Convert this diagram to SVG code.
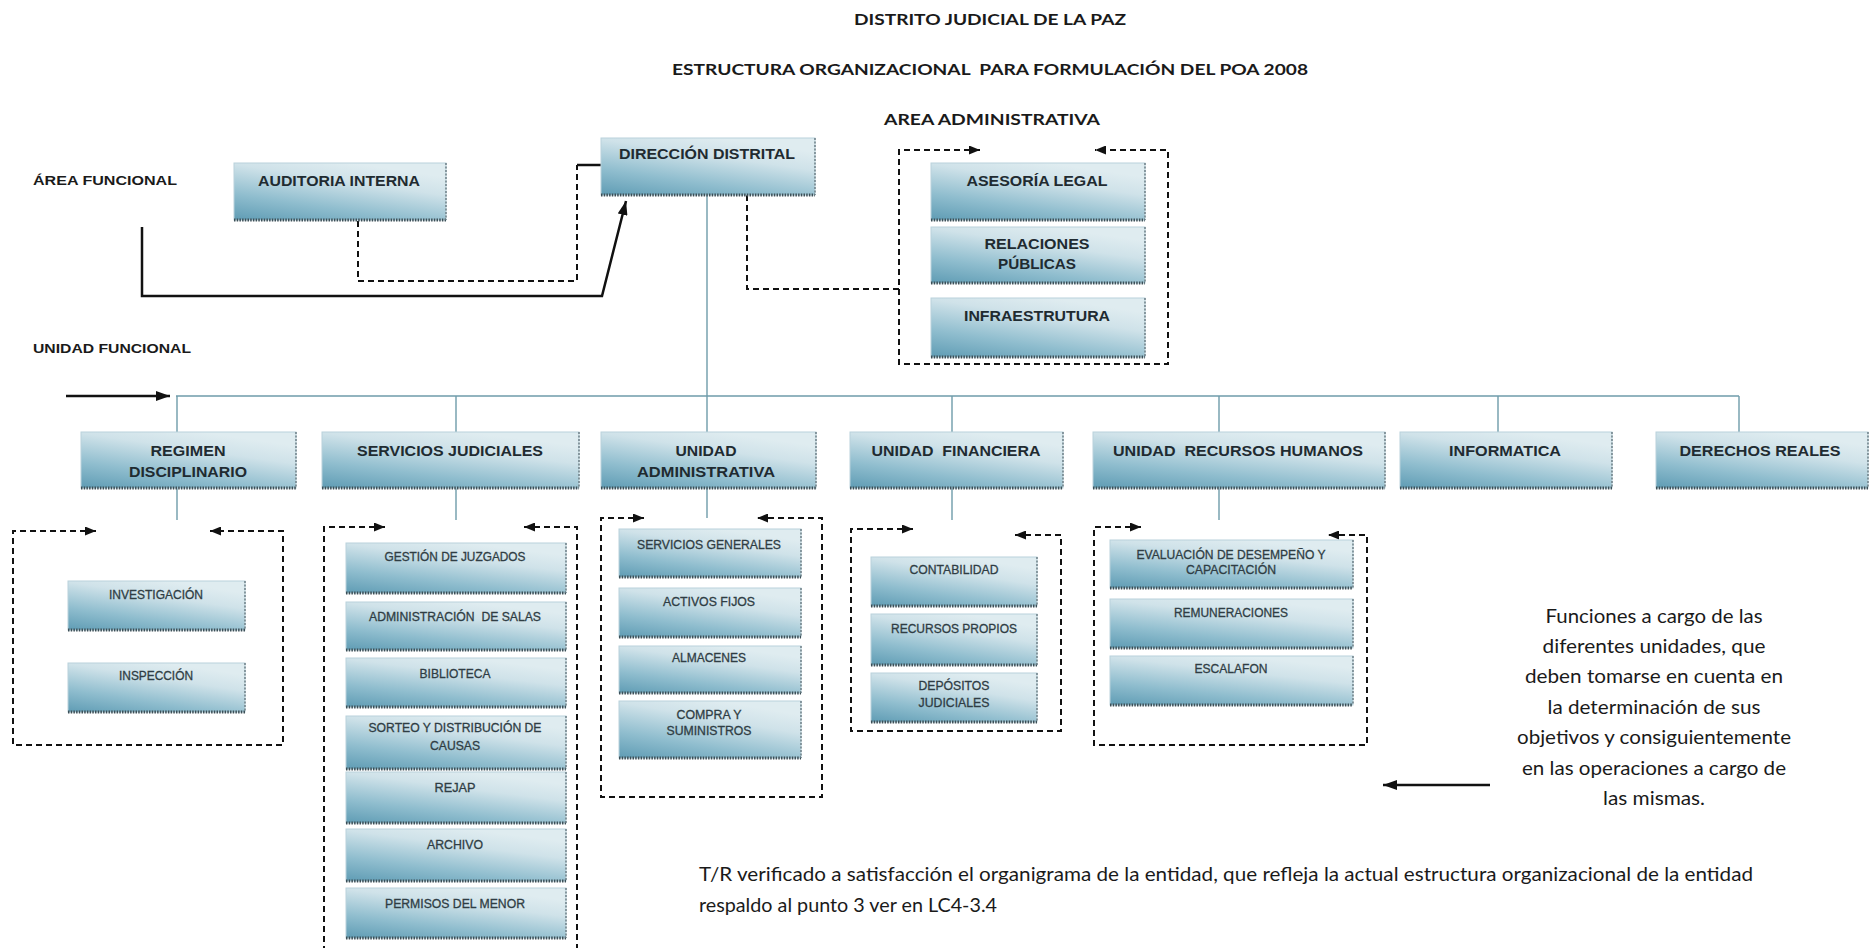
<svg xmlns="http://www.w3.org/2000/svg" width="1873" height="948" viewBox="0 0 1873 948">
<defs>
<linearGradient id="g" x1="0" y1="1" x2="0.55" y2="0">
<stop offset="0" stop-color="#5f9cb4"/>
<stop offset="0.35" stop-color="#8fbdce"/>
<stop offset="0.75" stop-color="#cfe2e9"/>
<stop offset="1" stop-color="#dfecf0"/>
</linearGradient>
<marker id="ah" viewBox="0 0 11 9" refX="11" refY="4.5" markerWidth="11" markerHeight="9" markerUnits="userSpaceOnUse" orient="auto-start-reverse">
<path d="M0,0 L11,4.5 L0,9 z" fill="#111"/>
</marker>
<marker id="ahb" viewBox="0 0 14 10" refX="14" refY="5" markerWidth="14" markerHeight="10" markerUnits="userSpaceOnUse" orient="auto">
<path d="M0,0 L14,5 L0,10 z" fill="#111"/>
</marker>
</defs>
<style>
.bx{fill:url(#g);stroke:#b9d2db;stroke-width:1}
.sb{stroke:#3c4f57;stroke-width:3;stroke-dasharray:1.5 1.2;fill:none}
.sr{stroke:#6d7f86;stroke-width:1.5;stroke-dasharray:2 1.5;fill:none}
.t1{font-family:"Liberation Sans",Arial,sans-serif;font-weight:bold;font-size:15px;fill:#1f2b31;text-anchor:middle;dominant-baseline:central;white-space:pre}
.t2{font-family:"Liberation Sans",Arial,sans-serif;font-size:12.5px;fill:#2f3d44;text-anchor:middle;dominant-baseline:central;stroke:#2f3d44;stroke-width:0.3}
.lb{font-family:"Liberation Sans",Arial,sans-serif;font-weight:bold;font-size:13.5px;fill:#1a1a1a;dominant-baseline:central}
.ti{font-family:Lato,"Open Sans",sans-serif;font-weight:bold;font-size:16px;fill:#1a1a1a;text-anchor:middle;dominant-baseline:central;white-space:pre}
.an{font-family:Lato,"Open Sans",sans-serif;font-size:20px;fill:#1a1a1a;text-anchor:middle;dominant-baseline:central}
.nt{font-family:Lato,"Open Sans",sans-serif;font-size:19px;fill:#1a1a1a;dominant-baseline:central}
.bus{stroke:#6f9caa;stroke-width:1.4;fill:none}
.dsh{stroke:#111;stroke-width:2;stroke-dasharray:6 4;fill:none}
.sol{stroke:#111;stroke-width:2.5;fill:none}
</style>
<rect width="1873" height="948" fill="#fff"/>

<g id="titles">
<text class="ti" x="990" y="18" textLength="272" lengthAdjust="spacingAndGlyphs">DISTRITO JUDICIAL DE LA PAZ</text>
<text class="ti" x="990" y="68" textLength="636" lengthAdjust="spacingAndGlyphs">ESTRUCTURA ORGANIZACIONAL  PARA FORMULACIÓN DEL POA 2008</text>
<text class="ti" x="992" y="118" textLength="216" lengthAdjust="spacingAndGlyphs">AREA ADMINISTRATIVA</text>
<text class="lb" x="33" y="180" textLength="144" lengthAdjust="spacingAndGlyphs">ÁREA FUNCIONAL</text>
<text class="lb" x="33" y="348" textLength="158" lengthAdjust="spacingAndGlyphs">UNIDAD FUNCIONAL</text>
</g>

<g id="connectors">
<path class="dsh" d="M358,221 L358,281 L577,281 L577,165"/>
<path class="sol" d="M577,165 L602,165" stroke-width="2"/>
<path class="sol" d="M142,227 L142,296 L602,296 L626,201" marker-end="url(#ahb)"/>
<path class="dsh" d="M747,195 L747,289 L899,289"/>
<path class="dsh" d="M980,150 L899,150 L899,364 L1168,364 L1168,150 L1095,150" marker-start="url(#ah)" marker-end="url(#ah)"/>
<path class="bus" d="M707,195 L707,432 M176,396 L1739,396 M177,396 L177,432 M456,396 L456,432 M952,396 L952,432 M1219,396 L1219,432 M1498,396 L1498,432 M1739,396 L1739,432"/>
<path class="sol" d="M66,396 L170,396" marker-end="url(#ahb)"/>
<path class="bus" d="M177,488 L177,520 M456,488 L456,520 M707,488 L707,518 M952,488 L952,520 M1219,488 L1219,520"/>
<path class="dsh" d="M96,531 L13,531 L13,745 L283,745 L283,531 L210,531" marker-start="url(#ah)" marker-end="url(#ah)"/>
<path class="dsh" d="M385,527 L324,527 L324,950" marker-start="url(#ah)"/>
<path class="dsh" d="M577,950 L577,527 L524,527" marker-end="url(#ah)"/>
<path class="dsh" d="M644,518 L601,518 L601,797 L822,797 L822,518 L757,518" marker-start="url(#ah)" marker-end="url(#ah)"/>
<path class="dsh" d="M913,529 L851,529 L851,731 L1061,731 L1061,535 L1015,535" marker-start="url(#ah)" marker-end="url(#ah)"/>
<path class="dsh" d="M1141,527 L1094,527 L1094,745 L1367,745 L1367,535 L1328,535" marker-start="url(#ah)" marker-end="url(#ah)"/>
<path class="sol" d="M1490,785 L1383,785" marker-end="url(#ahb)"/>
</g>

<g id="n-auditoria"><rect class="bx" x="234" y="163" width="212" height="57"/><path class="sb" d="M234,220 H446"/><path class="sr" d="M446,163 V220"/><text class="t1" x="339" y="180" textLength="162" lengthAdjust="spacingAndGlyphs">AUDITORIA INTERNA</text></g>
<g id="n-direccion"><rect class="bx" x="601" y="138" width="214" height="57"/><path class="sb" d="M601,195 H815"/><path class="sr" d="M815,138 V195"/><text class="t1" x="707" y="153" textLength="176" lengthAdjust="spacingAndGlyphs">DIRECCIÓN DISTRITAL</text></g>
<g id="n-asesoria"><rect class="bx" x="931" y="163" width="214" height="57"/><path class="sb" d="M931,220 H1145"/><path class="sr" d="M1145,163 V220"/><text class="t1" x="1037" y="180" textLength="141" lengthAdjust="spacingAndGlyphs">ASESORÍA LEGAL</text></g>
<g id="n-relaciones"><rect class="bx" x="931" y="227" width="214" height="56"/><path class="sb" d="M931,283 H1145"/><path class="sr" d="M1145,227 V283"/><text class="t1" x="1037" y="243" textLength="105" lengthAdjust="spacingAndGlyphs">RELACIONES</text><text class="t1" x="1037" y="263" textLength="78" lengthAdjust="spacingAndGlyphs">PÚBLICAS</text></g>
<g id="n-infra"><rect class="bx" x="931" y="298" width="214" height="59"/><path class="sb" d="M931,357 H1145"/><path class="sr" d="M1145,298 V357"/><text class="t1" x="1037" y="315" textLength="146" lengthAdjust="spacingAndGlyphs">INFRAESTRUTURA</text></g>

<g id="n-regimen"><rect class="bx" x="81" y="432" width="215" height="56"/><path class="sb" d="M81,488 H296"/><path class="sr" d="M296,432 V488"/><text class="t1" x="188" y="450" textLength="75" lengthAdjust="spacingAndGlyphs">REGIMEN</text><text class="t1" x="188" y="471" textLength="118" lengthAdjust="spacingAndGlyphs">DISCIPLINARIO</text></g>
<g id="n-servicios"><rect class="bx" x="322" y="432" width="257" height="56"/><path class="sb" d="M322,488 H579"/><path class="sr" d="M579,432 V488"/><text class="t1" x="450" y="450" textLength="186" lengthAdjust="spacingAndGlyphs">SERVICIOS JUDICIALES</text></g>
<g id="n-uadmin"><rect class="bx" x="601" y="432" width="215" height="56"/><path class="sb" d="M601,488 H816"/><path class="sr" d="M816,432 V488"/><text class="t1" x="706" y="450" textLength="61" lengthAdjust="spacingAndGlyphs">UNIDAD</text><text class="t1" x="706" y="471" textLength="138" lengthAdjust="spacingAndGlyphs">ADMINISTRATIVA</text></g>
<g id="n-ufin"><rect class="bx" x="850" y="432" width="213" height="56"/><path class="sb" d="M850,488 H1063"/><path class="sr" d="M1063,432 V488"/><text class="t1" x="956" y="450" textLength="169" lengthAdjust="spacingAndGlyphs">UNIDAD  FINANCIERA</text></g>
<g id="n-urrhh"><rect class="bx" x="1093" y="432" width="292" height="56"/><path class="sb" d="M1093,488 H1385"/><path class="sr" d="M1385,432 V488"/><text class="t1" x="1238" y="450" textLength="250" lengthAdjust="spacingAndGlyphs">UNIDAD  RECURSOS HUMANOS</text></g>
<g id="n-informatica"><rect class="bx" x="1400" y="432" width="212" height="56"/><path class="sb" d="M1400,488 H1612"/><path class="sr" d="M1612,432 V488"/><text class="t1" x="1505" y="450" textLength="112" lengthAdjust="spacingAndGlyphs">INFORMATICA</text></g>
<g id="n-derechos"><rect class="bx" x="1656" y="432" width="212" height="56"/><path class="sb" d="M1656,488 H1868"/><path class="sr" d="M1868,432 V488"/><text class="t1" x="1760" y="450" textLength="161" lengthAdjust="spacingAndGlyphs">DERECHOS REALES</text></g>

<g id="n-investigacion"><rect class="bx" x="68" y="581" width="177" height="49"/><path class="sb" d="M68,630 H245"/><path class="sr" d="M245,581 V630"/><text class="t2" x="156" y="595" textLength="94" lengthAdjust="spacingAndGlyphs">INVESTIGACIÓN</text></g>
<g id="n-inspeccion"><rect class="bx" x="68" y="663" width="177" height="49"/><path class="sb" d="M68,712 H245"/><path class="sr" d="M245,663 V712"/><text class="t2" x="156" y="676" textLength="74" lengthAdjust="spacingAndGlyphs">INSPECCIÓN</text></g>

<g id="n-gestion"><rect class="bx" x="346" y="543" width="220" height="50"/><path class="sb" d="M346,593 H566"/><path class="sr" d="M566,543 V593"/><text class="t2" x="455" y="557" textLength="141" lengthAdjust="spacingAndGlyphs">GESTIÓN DE JUZGADOS</text></g>
<g id="n-salas"><rect class="bx" x="346" y="602" width="220" height="48"/><path class="sb" d="M346,650 H566"/><path class="sr" d="M566,602 V650"/><text class="t2" x="455" y="617" textLength="172" lengthAdjust="spacingAndGlyphs" style="white-space:pre">ADMINISTRACIÓN  DE SALAS</text></g>
<g id="n-biblioteca"><rect class="bx" x="346" y="658" width="220" height="49"/><path class="sb" d="M346,707 H566"/><path class="sr" d="M566,658 V707"/><text class="t2" x="455" y="674" textLength="71" lengthAdjust="spacingAndGlyphs">BIBLIOTECA</text></g>
<g id="n-sorteo"><rect class="bx" x="346" y="716" width="220" height="53"/><path class="sb" d="M346,769 H566"/><path class="sr" d="M566,716 V769"/><text class="t2" x="455" y="728" textLength="173" lengthAdjust="spacingAndGlyphs">SORTEO Y DISTRIBUCIÓN DE</text><text class="t2" x="455" y="746" textLength="50" lengthAdjust="spacingAndGlyphs">CAUSAS</text></g>
<g id="n-rejap"><rect class="bx" x="346" y="772" width="220" height="51"/><path class="sb" d="M346,823 H566"/><path class="sr" d="M566,772 V823"/><text class="t2" x="455" y="788" textLength="41" lengthAdjust="spacingAndGlyphs">REJAP</text></g>
<g id="n-archivo"><rect class="bx" x="346" y="829" width="220" height="52"/><path class="sb" d="M346,881 H566"/><path class="sr" d="M566,829 V881"/><text class="t2" x="455" y="845" textLength="56" lengthAdjust="spacingAndGlyphs">ARCHIVO</text></g>
<g id="n-permisos"><rect class="bx" x="346" y="888" width="220" height="50"/><path class="sb" d="M346,938 H566"/><path class="sr" d="M566,888 V938"/><text class="t2" x="455" y="904" textLength="140" lengthAdjust="spacingAndGlyphs">PERMISOS DEL MENOR</text></g>

<g id="n-sgenerales"><rect class="bx" x="619" y="529" width="182" height="48"/><path class="sb" d="M619,577 H801"/><path class="sr" d="M801,529 V577"/><text class="t2" x="709" y="545" textLength="144" lengthAdjust="spacingAndGlyphs">SERVICIOS GENERALES</text></g>
<g id="n-activos"><rect class="bx" x="619" y="588" width="182" height="49"/><path class="sb" d="M619,637 H801"/><path class="sr" d="M801,588 V637"/><text class="t2" x="709" y="602" textLength="92" lengthAdjust="spacingAndGlyphs">ACTIVOS FIJOS</text></g>
<g id="n-almacenes"><rect class="bx" x="619" y="646" width="182" height="47"/><path class="sb" d="M619,693 H801"/><path class="sr" d="M801,646 V693"/><text class="t2" x="709" y="658" textLength="74" lengthAdjust="spacingAndGlyphs">ALMACENES</text></g>
<g id="n-compra"><rect class="bx" x="619" y="701" width="182" height="57"/><path class="sb" d="M619,758 H801"/><path class="sr" d="M801,701 V758"/><text class="t2" x="709" y="715" textLength="65" lengthAdjust="spacingAndGlyphs">COMPRA Y</text><text class="t2" x="709" y="731" textLength="85" lengthAdjust="spacingAndGlyphs">SUMINISTROS</text></g>

<g id="n-contabilidad"><rect class="bx" x="871" y="557" width="166" height="49"/><path class="sb" d="M871,606 H1037"/><path class="sr" d="M1037,557 V606"/><text class="t2" x="954" y="570" textLength="89" lengthAdjust="spacingAndGlyphs">CONTABILIDAD</text></g>
<g id="n-rpropios"><rect class="bx" x="871" y="614" width="166" height="51"/><path class="sb" d="M871,665 H1037"/><path class="sr" d="M1037,614 V665"/><text class="t2" x="954" y="629" textLength="126" lengthAdjust="spacingAndGlyphs">RECURSOS PROPIOS</text></g>
<g id="n-depositos"><rect class="bx" x="871" y="673" width="166" height="49"/><path class="sb" d="M871,722 H1037"/><path class="sr" d="M1037,673 V722"/><text class="t2" x="954" y="686" textLength="71" lengthAdjust="spacingAndGlyphs">DEPÓSITOS</text><text class="t2" x="954" y="703" textLength="71" lengthAdjust="spacingAndGlyphs">JUDICIALES</text></g>

<g id="n-evaluacion"><rect class="bx" x="1110" y="540" width="243" height="48"/><path class="sb" d="M1110,588 H1353"/><path class="sr" d="M1353,540 V588"/><text class="t2" x="1231" y="555" textLength="189" lengthAdjust="spacingAndGlyphs">EVALUACIÓN DE DESEMPEÑO Y</text><text class="t2" x="1231" y="570" textLength="90" lengthAdjust="spacingAndGlyphs">CAPACITACIÓN</text></g>
<g id="n-remuneraciones"><rect class="bx" x="1110" y="599" width="243" height="49"/><path class="sb" d="M1110,648 H1353"/><path class="sr" d="M1353,599 V648"/><text class="t2" x="1231" y="613" textLength="114" lengthAdjust="spacingAndGlyphs">REMUNERACIONES</text></g>
<g id="n-escalafon"><rect class="bx" x="1110" y="656" width="243" height="49"/><path class="sb" d="M1110,705 H1353"/><path class="sr" d="M1353,656 V705"/><text class="t2" x="1231" y="669" textLength="73" lengthAdjust="spacingAndGlyphs">ESCALAFON</text></g>

<g id="annotation">
<text class="an" x="1654" y="615" textLength="217" lengthAdjust="spacingAndGlyphs">Funciones a cargo de las</text>
<text class="an" x="1654" y="645" textLength="223" lengthAdjust="spacingAndGlyphs">diferentes unidades, que</text>
<text class="an" x="1654" y="675" textLength="258" lengthAdjust="spacingAndGlyphs">deben tomarse en cuenta en</text>
<text class="an" x="1654" y="706" textLength="213" lengthAdjust="spacingAndGlyphs">la determinación de sus</text>
<text class="an" x="1654" y="736" textLength="274" lengthAdjust="spacingAndGlyphs">objetivos y consiguientemente</text>
<text class="an" x="1654" y="767" textLength="264" lengthAdjust="spacingAndGlyphs">en las operaciones a cargo de</text>
<text class="an" x="1654" y="797" textLength="102" lengthAdjust="spacingAndGlyphs">las mismas.</text>
</g>
<g id="note">
<text class="nt" x="699" y="873" textLength="1054" lengthAdjust="spacingAndGlyphs">T/R verificado a satisfacción el organigrama de la entidad, que refleja la actual estructura organizacional de la entidad</text>
<text class="nt" x="699" y="904" textLength="298" lengthAdjust="spacingAndGlyphs">respaldo al punto 3 ver en LC4-3.4</text>
</g>
</svg>
